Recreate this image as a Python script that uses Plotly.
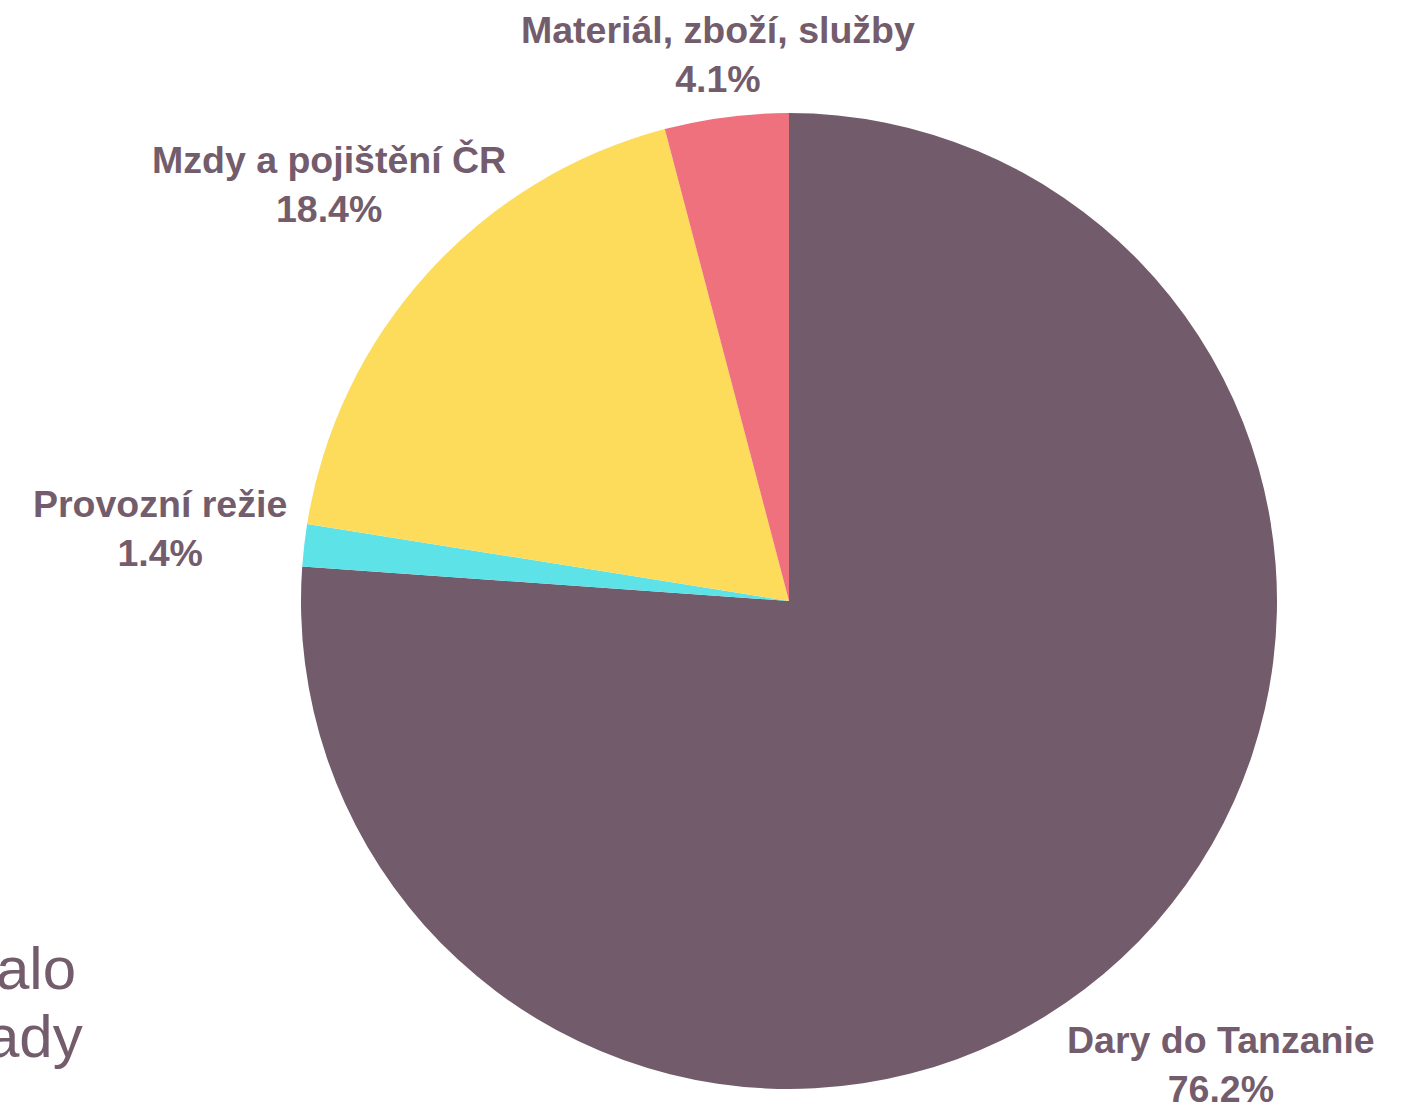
import math
import plotly.graph_objects as go

labels = ["Dary do Tanzanie", "Provozní režie", "Mzdy a pojištění ČR", "Materiál, zboží, služby"]
values = [76.2, 1.4, 18.4, 4.1]
colors = ["#725B6B", "#5DE2E7", "#FDDC5C", "#EE717D"]
text_color = "#735C6C"
side_text = ["alo", "ady"]

W, H = 1418, 1108
cx, cy, r = 789, 601, 488          # pie centre and radius in pixels
label_dist = [633, 633, 620, 551]  # distance of label centres from pie centre
side_right = [78, 85]              # right edges of the clipped side text lines
side_mid = [968, 1036]             # vertical middles of the side text lines
FONT = "Liberation Sans, Arial, sans-serif"

fig = go.Figure(go.Pie(
    labels=labels,
    values=values,
    sort=False,
    direction="clockwise",
    rotation=0,
    marker=dict(colors=colors, line=dict(width=0)),
    textinfo="none",
    showlegend=False,
    domain=dict(x=[(cx - r) / W, (cx + r) / W], y=[1 - (cy + r) / H, 1 - (cy - r) / H]),
    hoverinfo="label+value",
))

# outside labels placed on each slice's mid-angle ray
total = sum(values)
cum = 0.0
for lab, v, d in zip(labels, values, label_dist):
    mid = (cum + v / 2) / total * 2 * math.pi
    cum += v
    px = cx + d * math.sin(mid)
    py = cy - d * math.cos(mid)
    fig.add_annotation(
        text=f"<b>{lab}</b><br><b>{v:.1f}%</b>",
        xref="paper", yref="paper", x=px / W, y=1 - py / H,
        xanchor="center", yanchor="middle", showarrow=False, align="center",
        font=dict(family=FONT, size=37.5, color=text_color),
    )

for t, xr, ym in zip(side_text, side_right, side_mid):
    fig.add_annotation(text=t, xref="paper", yref="paper", x=xr / W, y=1 - ym / H,
                       xanchor="right", yanchor="middle", showarrow=False,
                       font=dict(family=FONT, size=60, color=text_color))

fig.update_layout(
    width=W, height=H,
    margin=dict(l=0, r=0, t=0, b=0),
    paper_bgcolor="white",
    plot_bgcolor="white",
)

fig.write_html("out.html", config={"displayModeBar": False},
               post_script="document.body.style.margin='0';")
